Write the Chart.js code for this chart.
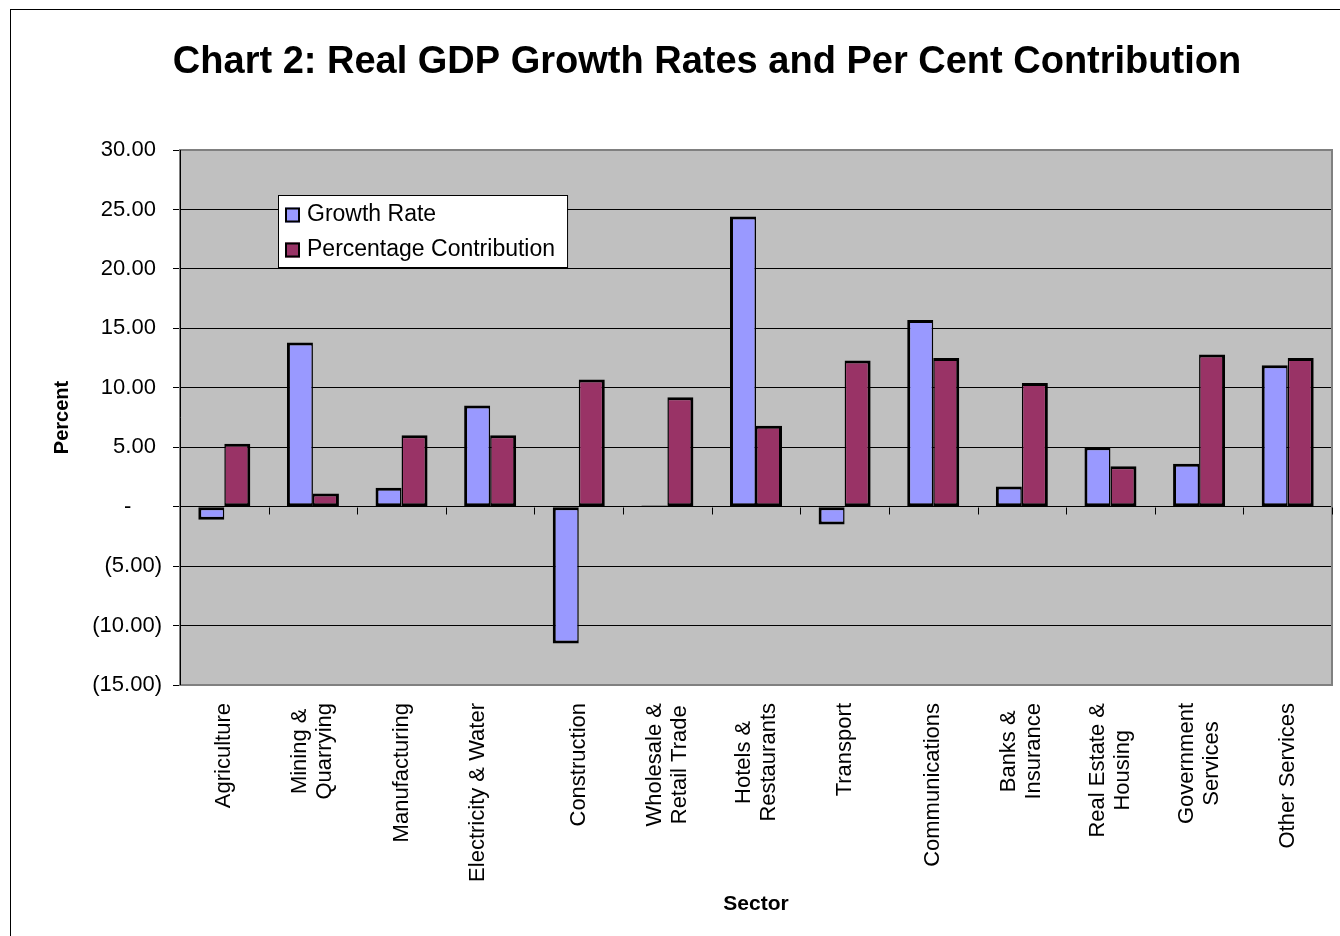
<!DOCTYPE html>
<html>
<head>
<meta charset="utf-8">
<title>Chart 2: Real GDP Growth Rates and Per Cent Contribution</title>
<script src="https://cdn.jsdelivr.net/npm/chart.js@4"></script>
<style>
  html, body { margin: 0; padding: 0; background: #fff; overflow: hidden; }
  #wrap { position: relative; width: 1340px; height: 936px; }
  #frame { position: absolute; left: 10px; top: 9px; width: 1400px; height: 1000px;
           border: 1px solid #000; pointer-events: none; }
</style>
</head>
<body>
<div id="wrap">
  <canvas id="myChart" width="1340" height="936"></canvas>
  <div id="frame"></div>
</div>
<script>
// sector names, one entry per line of the rotated label
let sectors = [
    ['Agriculture'],
    ['Mining &', 'Quarrying'],
    ['Manufacturing'],
    ['Electricity & Water', ''],
    ['Construction'],
    ['Wholesale &', 'Retail Trade'],
    ['Hotels &', 'Restaurants'],
    ['Transport'],
    ['Communications'],
    ['Banks &', 'Insurance'],
    ['Real Estate &', 'Housing'],
    ['Government', 'Services'],
    ['Other Services']
];
let growthRate   = [-1.1, 13.8, 1.6, 8.5, -11.5, 0.1, 24.4, -1.5, 15.7, 1.7, 5.0, 3.6, 11.9];
let contribution = [5.3, 1.1, 6.0, 6.0, 10.7, 9.2, 6.8, 12.3, 12.5, 10.4, 3.4, 12.8, 12.5];
let seriesNames  = ['Growth Rate', 'Percentage Contribution'];
let yMin = -15, yMax = 30, yStep = 5;

let font = '"Liberation Sans", Arial, sans-serif';
let titleText = 'Chart 2: Real GDP Growth Rates and Per Cent Contribution';

// accounting style: 5.00 / (5.00) / -
function accounting(v) {
    if (v == 0) return '-     ';
    let s = Math.abs(v).toFixed(2);
    return v < 0 ? '(' + s + ')' : s + ' ';
}

let excelLook = {
    id: 'excelLook',
    beforeDraw(chart) {
        let a = chart.chartArea, ctx = chart.ctx;
        ctx.save();
        ctx.fillStyle = '#C0C0C0';
        ctx.fillRect(a.left, a.top, a.right - a.left, a.bottom - a.top);
        ctx.restore();
    },
    beforeDatasetsDraw(chart) {
        let a = chart.chartArea, ctx = chart.ctx;
        let xs = chart.scales.x, ys = chart.scales.y;
        ctx.save();
        // plot area border
        ctx.strokeStyle = '#808080';
        ctx.lineWidth = 2;
        ctx.strokeRect(a.left, a.top, a.right - a.left, a.bottom - a.top);
        // value axis line
        ctx.strokeStyle = '#000';
        ctx.lineWidth = 1;
        ctx.beginPath();
        ctx.moveTo(a.left + 0.5, a.top);
        ctx.lineTo(a.left + 0.5, a.bottom);
        ctx.stroke();
        // category tick marks hanging off the zero line
        let y0 = Math.round(ys.getPixelForValue(0)) + 0.5;
        ctx.beginPath();
        for (let i = 0; i <= sectors.length; i++) {
            let x = Math.round(xs.getPixelForValue(i - 0.5)) + 0.5;
            ctx.moveTo(x, y0);
            ctx.lineTo(x, y0 + 7);
        }
        ctx.stroke();
        ctx.restore();
    },
    afterDraw(chart) {
        let a = chart.chartArea, ctx = chart.ctx;
        let xs = chart.scales.x;
        ctx.save();

        // chart title, centred on the outer frame
        ctx.fillStyle = '#000';
        ctx.font = 'bold 38px ' + font;
        ctx.textAlign = 'center';
        ctx.textBaseline = 'alphabetic';
        ctx.fillText(titleText, 10 + 1394 / 2, 73);

        // rotated sector labels, lines centred on each other
        ctx.font = '22px ' + font;
        ctx.textBaseline = 'middle';
        let lineH = 25;
        for (let i = 0; i < sectors.length; i++) {
            let lines = sectors[i];
            let w = Math.max(...lines.map(l => ctx.measureText(l).width));
            let cx = xs.getPixelForValue(i);
            let cy = a.bottom + 18 + w / 2;
            ctx.save();
            ctx.translate(cx, cy);
            ctx.rotate(-Math.PI / 2);
            ctx.textAlign = 'center';
            lines.forEach((l, j) => {
                ctx.fillText(l, 0, (j - (lines.length - 1) / 2) * lineH);
            });
            ctx.restore();
        }

        // legend box
        ctx.font = '23px ' + font;
        let sets = chart.data.datasets;
        let textW = Math.max(...sets.map(d => ctx.measureText(d.label).width));
        let bx = a.left + 98, by = a.top + 45;
        let bw = 7 + 15 + 7 + textW + 12, bh = 72;
        ctx.fillStyle = '#fff';
        ctx.fillRect(bx, by, bw, bh);
        ctx.strokeStyle = '#000';
        ctx.lineWidth = 1;
        ctx.strokeRect(bx + 0.5, by + 0.5, bw, bh);
        sets.forEach((d, k) => {
            let ry = by + 20 + k * 35;
            ctx.fillStyle = d.backgroundColor;
            ctx.fillRect(bx + 7, ry - 7.5, 15, 15);
            ctx.lineWidth = 2;
            ctx.strokeRect(bx + 8, ry - 6.5, 13, 13);
            ctx.fillStyle = '#000';
            ctx.textAlign = 'left';
            ctx.textBaseline = 'middle';
            ctx.fillText(d.label, bx + 29, ry);
        });
        ctx.restore();
    }
};

let myChart = new Chart(document.getElementById('myChart'), {
    type: 'bar',
    data: {
        labels: sectors,
        datasets: [{
            label: seriesNames[0],
            data: growthRate,
            backgroundColor: '#9999FF',
            borderColor: '#000',
            borderWidth: { top: 3, left: 3, bottom: 3, right: 1.5 },
            borderSkipped: false,
            categoryPercentage: 0.587,
            barPercentage: 1
        }, {
            label: seriesNames[1],
            data: contribution,
            backgroundColor: '#993366',
            borderColor: '#000',
            borderWidth: { top: 3, left: 1.5, bottom: 3, right: 3 },
            borderSkipped: false,
            categoryPercentage: 0.587,
            barPercentage: 1
        }]
    },
    options: {
        responsive: false,
        animation: false,
        devicePixelRatio: 1,
        layout: { padding: { top: 150, right: 8, bottom: 0, left: 0 } },
        plugins: {
            legend: { display: false },
            tooltip: { enabled: false },
            title: { display: false }
        },
        scales: {
            x: {
                grid: { display: false },
                border: { display: false },
                ticks: { display: false },
                title: {
                    display: true,
                    text: 'Sector',
                    color: '#000',
                    font: { family: font, size: 21, weight: 'bold' },
                    padding: { top: 0, bottom: 19 }
                },
                afterFit(scale) { scale.height = 251; }
            },
            y: {
                min: yMin,
                max: yMax,
                grid: { color: '#000', lineWidth: 1, tickLength: 7, tickColor: '#000' },
                border: { display: false },
                ticks: {
                    stepSize: yStep,
                    padding: 11,
                    color: '#000',
                    font: { family: font, size: 22 },
                    callback: v => accounting(v)
                },
                title: {
                    display: true,
                    text: 'Percent',
                    color: '#000',
                    font: { family: font, size: 20, weight: 'bold' },
                    padding: { top: 50, bottom: 0 }
                },
                afterFit(scale) { scale.width = 180; }
            }
        }
    },
    plugins: [excelLook]
});
</script>
</body>
</html>
